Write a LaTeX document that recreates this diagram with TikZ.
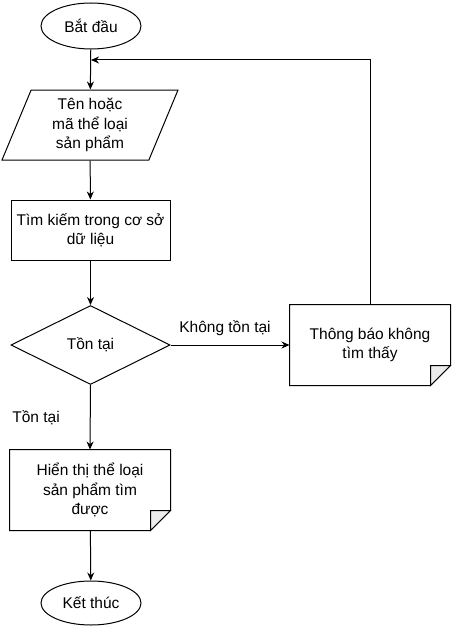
\documentclass[tikz,border=0pt]{standalone}
\usepackage{fontspec}
\setmainfont{Liberation Sans}
\usetikzlibrary{shapes.geometric,arrows.meta,positioning}

\begin{document}
\begin{tikzpicture}[x=1pt,y=-1pt,line width=1pt,
		every node/.style={font=\fontsize{15.5}{19.5}\selectfont,align=center},
		terminal/.style={ellipse,draw,minimum width=100pt,minimum height=46pt,inner sep=0pt},
		inout/.style={trapezium,draw,trapezium left angle=61.5,trapezium right angle=118.5,trapezium stretches body,minimum width=176pt,minimum height=70pt,inner sep=0pt},
		process/.style={rectangle,draw,minimum width=159pt,minimum height=60pt,inner sep=0pt},
		decision/.style={diamond,draw,minimum width=159pt,minimum height=79pt,inner sep=0pt},
		docbox/.style={rectangle,minimum width=160pt,minimum height=80pt,inner sep=0pt},
		edgelabel/.style={inner sep=0pt},
		arr/.style={-{Stealth[length=8pt,width=7pt]}}]
		\useasboundingbox (0,0) rectangle (451,626);
		\node [terminal] (start) at (91,26) {Bắt đầu};
		\node [inout] (input) at (90,125) {Tên hoặc\\mã thể loại\\sản phẩm};
		\node [process] (search) at (90.5,230) {Tìm kiếm trong cơ sở\\dữ liệu};
		\node [decision] (check) at (90.5,345) {Tồn tại};
		\node [docbox] (notfound) at (370,345) {Thông báo không\\tìm thấy};
		\node [docbox] (show) at (90,490) {Hiển thị thể loại\\sản phẩm tìm\\được};
		\node [terminal,minimum height=44pt] (end) at (91,603) {Kết thúc};
		% folded corners
		\foreach \d in {notfound,show}{
			\draw (\d.north west) -- (\d.north east) -- ([yshift=20pt]\d.south east)
				-- ([xshift=-20pt]\d.south east) -- (\d.south west) -- cycle;
			\draw [fill=gray!15] ([xshift=-20pt]\d.south east) -- ([xshift=-20pt,yshift=20pt]\d.south east)
				-- ([yshift=20pt]\d.south east) -- cycle;
		}
		\coordinate (join) at (start.south |- 0,60);
		\draw [arr] (start) -- (input);
		\draw [arr] (input) -- (search);
		\draw [arr] (search) -- (check);
		\draw [arr] (check.east) -- node [edgelabel,above=9pt,xshift=-5pt] {Không tồn tại} (notfound.west);
		\draw [arr] (check.south) -- node [edgelabel,left=30pt] {Tồn tại} (show.north);
		\draw [arr] (notfound.north) |- (join);
		\draw [arr] (show) -- (end);
	\end{tikzpicture}
\end{document}
